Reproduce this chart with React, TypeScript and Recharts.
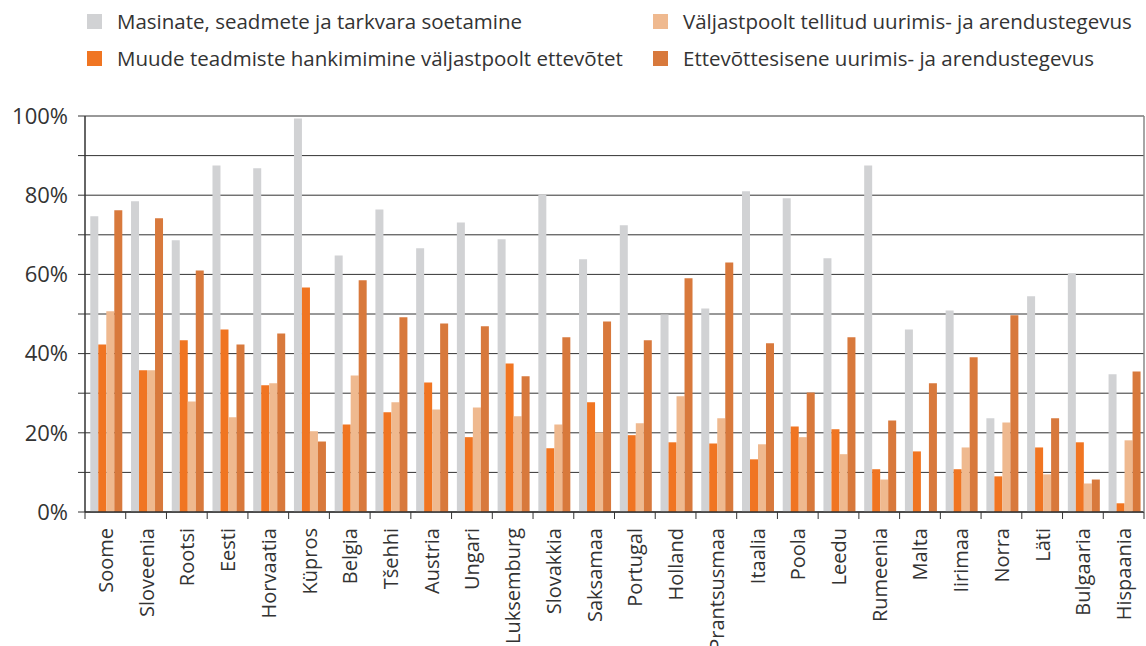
import React from "react";
import { BarChart, Bar, XAxis, YAxis, CartesianGrid } from "recharts";

// Riikide järjekord nagu originaalil
const countries = [
  "Soome", "Sloveenia", "Rootsi", "Eesti", "Horvaatia", "Küpros", "Belgia",
  "Tšehhi", "Austria", "Ungari", "Luksemburg", "Slovakkia", "Saksamaa",
  "Portugal", "Holland", "Prantsusmaa", "Itaalia", "Poola", "Leedu",
  "Rumeenia", "Malta", "Iirimaa", "Norra", "Läti", "Bulgaaria", "Hispaania",
];

const machinery = [
  74.7, 78.5, 68.6, 87.5, 86.8, 99.4, 64.8, 76.4, 66.6, 73.1, 68.9, 80.2, 63.8,
  72.4, 49.9, 51.4, 81.0, 79.2, 64.1, 87.5, 46.1, 50.9, 23.7, 54.5, 60.3, 34.8,
];
const otherKnowledge = [
  42.3, 35.8, 43.4, 46.1, 32.0, 56.7, 22.1, 25.2, 32.7, 18.9, 37.5, 16.1, 27.7,
  19.4, 17.6, 17.3, 13.3, 21.6, 20.9, 10.8, 15.3, 10.8, 9.0, 16.3, 17.6, 2.2,
];
const externalRD = [
  50.7, 35.8, 27.9, 23.9, 32.5, 20.4, 34.5, 27.7, 25.9, 26.4, 24.2, 22.1, 20.1,
  22.4, 29.2, 23.7, 17.1, 18.9, 14.6, 8.2, 0, 16.3, 22.6, 9.5, 7.2, 18.1,
];
const internalRD = [
  76.2, 74.2, 61.0, 42.3, 45.1, 17.8, 58.5, 49.2, 47.6, 46.9, 34.3, 44.1, 48.1,
  43.4, 59.0, 63.0, 42.6, 30.2, 44.1, 23.1, 32.5, 39.1, 49.7, 23.7, 8.2, 35.5,
];

const yTicks = [0, 10, 20, 30, 40, 50, 60, 70, 80, 90, 100];

const series = [
  { key: "machinery", name: "Masinate, seadmete ja tarkvara soetamine", color: "#d1d2d4" },
  { key: "otherKnowledge", name: "Muude teadmiste hankimimine väljastpoolt ettevõtet", color: "#f07522" },
  { key: "externalRD", name: "Väljastpoolt tellitud uurimis- ja arendustegevus", color: "#efb98f" },
  { key: "internalRD", name: "Ettevõttesisene uurimis- ja arendustegevus", color: "#d8793c" },
];

const FONT = "'Open Sans', sans-serif";
const W = 1146;
const H = 646;
const PLOT_LEFT = 85;
const PLOT_RIGHT = 1144;
const BAND = (PLOT_RIGHT - PLOT_LEFT) / countries.length;

const data = countries.map((name, i) => ({
  name,
  machinery: machinery[i],
  otherKnowledge: otherKnowledge[i],
  externalRD: externalRD[i],
  internalRD: internalRD[i],
}));

// x-telje silt pööratud 90 kraadi, kriipsud kategooriate vahel
const CountryTick = (props: any) => {
  const { x, y, payload, index } = props;
  const left = x - BAND / 2;
  const ty = y + 16;
  return (
    <g>
      <line x1={left} y1={y} x2={left} y2={y + 7} stroke="#333" />
      {index === countries.length - 1 && (
        <line x1={x + BAND / 2} y1={y} x2={x + BAND / 2} y2={y + 7} stroke="#333" />
      )}
      <text
        x={x}
        y={ty}
        transform={`rotate(-90 ${x} ${ty})`}
        textAnchor="end"
        dominantBaseline="central"
        fill="#333"
        fontSize={20}
        fontFamily={FONT}
      >
        {payload.value}
      </text>
    </g>
  );
};

const LegendItem = ({ color, label, left, top }: any) => (
  <div style={{ position: "absolute", left, top, display: "flex", alignItems: "center", whiteSpace: "nowrap" }}>
    <span style={{ width: 15, height: 15, background: color, display: "inline-block", marginRight: 15 }} />
    <span style={{ fontSize: 20.5, color: "#333", fontFamily: FONT, lineHeight: "22px" }}>{label}</span>
  </div>
);

export default function App() {
  return (
    <div style={{ position: "absolute", left: 0, top: 0, width: W, height: H, background: "#fff" }}>
      <LegendItem color={series[0].color} label={series[0].name} left={87} top={10} />
      <LegendItem color={series[1].color} label={series[1].name} left={87} top={47} />
      <LegendItem color={series[2].color} label={series[2].name} left={653} top={10} />
      <LegendItem color={series[3].color} label={series[3].name} left={653} top={47} />
      <BarChart
        width={W}
        height={H}
        data={data}
        margin={{ top: 116, right: 0, left: 0, bottom: 0 }}
        barCategoryGap="13%"
        barGap={0}
      >
        <CartesianGrid vertical={false} stroke="#333" />
        <XAxis
          dataKey="name"
          height={134}
          interval={0}
          tickLine={false}
          tickSize={0}
          tickMargin={0}
          axisLine={{ stroke: "#333", strokeWidth: 1.5 }}
          tick={<CountryTick />}
        />
        <YAxis
          width={85}
          domain={[0, 100]}
          ticks={yTicks}
          interval={0}
          tickSize={7}
          tickMargin={10}
          tickLine={{ stroke: "#333" }}
          axisLine={{ stroke: "#333", strokeWidth: 1.5 }}
          tickFormatter={(v: number) => (v % 20 === 0 ? `${v}%` : "")}
          tick={{ fill: "#333", fontSize: 22, fontFamily: FONT }}
        />
        <YAxis
          yAxisId="right"
          orientation="right"
          width={2}
          domain={[0, 100]}
          tick={false}
          tickLine={false}
          axisLine={{ stroke: "#888", strokeWidth: 1.5 }}
        />
        {series.map((s) => (
          <Bar key={s.key} dataKey={s.key} name={s.name} fill={s.color} isAnimationActive={false} />
        ))}
      </BarChart>
    </div>
  );
}
